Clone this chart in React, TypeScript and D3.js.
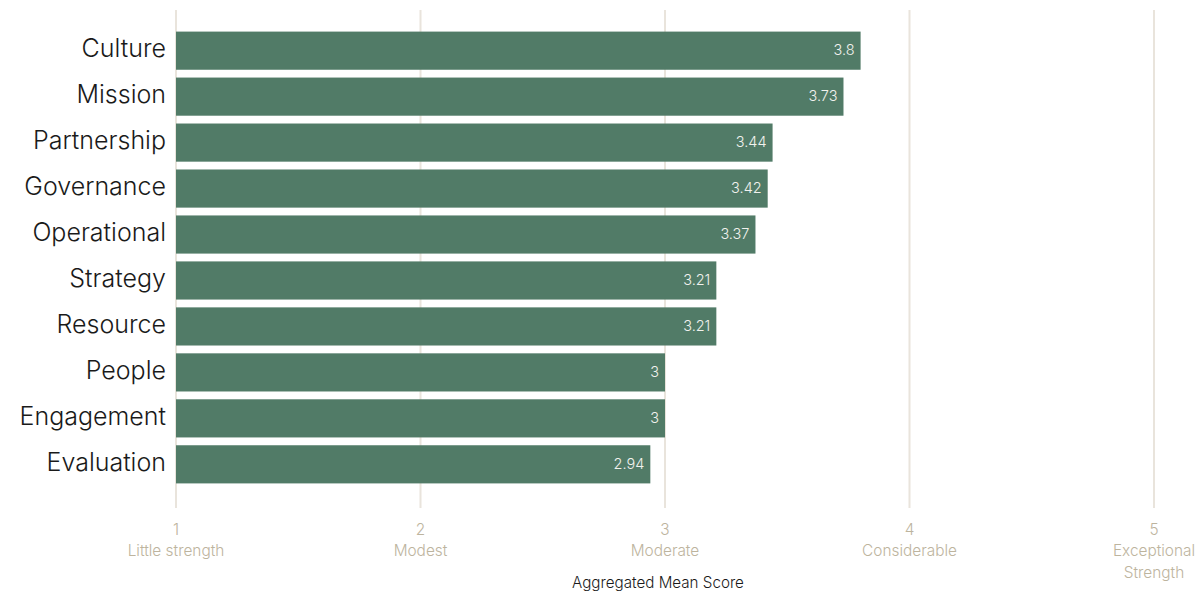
import React from "react";
import * as d3 from "d3";

const categories = ["Culture", "Mission", "Partnership", "Governance", "Operational", "Strategy", "Resource", "People", "Engagement", "Evaluation"];
const values = [3.8, 3.73, 3.44, 3.42, 3.37, 3.21, 3.21, 3, 3, 2.94];
const tickValues = [1, 2, 3, 4, 5];
const tickLabels = [["Little strength"], ["Modest"], ["Moderate"], ["Considerable"], ["Exceptional", "Strength"]];
const axisTitle = "Aggregated Mean Score";

export default function App() {
  const W = 1198, H = 598;
  const x = d3.scaleLinear().domain([1, 5]).range([176, 1154]);
  const y = d3.scaleBand<string>().domain(categories).range([27, 488]).paddingInner(0.17).paddingOuter(0.1);
  const font = "Inter, 'Helvetica Neue', Arial, sans-serif";
  return (
    <svg width={W} height={H} style={{ position: "absolute", left: 0, top: 0, fontFamily: font }}>
      {tickValues.map((t) => (
        <line key={"g" + t} x1={x(t)} x2={x(t)} y1={10} y2={508} stroke="#e9e4dc" strokeWidth={2} />
      ))}
      {categories.map((c, i) => (
        <g key={c}>
          <rect x={x(1)} y={y(c)} width={x(values[i]) - x(1)} height={y.bandwidth()} fill="#517b67" />
          <text x={x(values[i]) - 6} y={y(c)! + y.bandwidth() / 2} dy="0.33em" textAnchor="end" fill="#f2f2ee" fontSize={14.5} fontWeight={300}>
            {String(values[i])}
          </text>
          <text x={166} y={y(c)! + y.bandwidth() / 2 - 2} dy="0.35em" textAnchor="end" fill="#1a1a1a" fontSize={25} fontWeight={300}>
            {c}
          </text>
        </g>
      ))}
      {tickValues.map((t, i) => (
        <g key={"t" + t} fill="#bdb49e" fontSize={15.4} fontWeight={300} textAnchor="middle">
          <text x={x(t)} y={535}>{t}</text>
          {tickLabels[i].map((l, j) => (
            <text key={l} x={x(t)} y={556 + j * 22}>{l}</text>
          ))}
        </g>
      ))}
      <text x={658} y={588} textAnchor="middle" fill="#1a1a1a" fontSize={15.2} fontWeight={300}>{axisTitle}</text>
    </svg>
  );
}
